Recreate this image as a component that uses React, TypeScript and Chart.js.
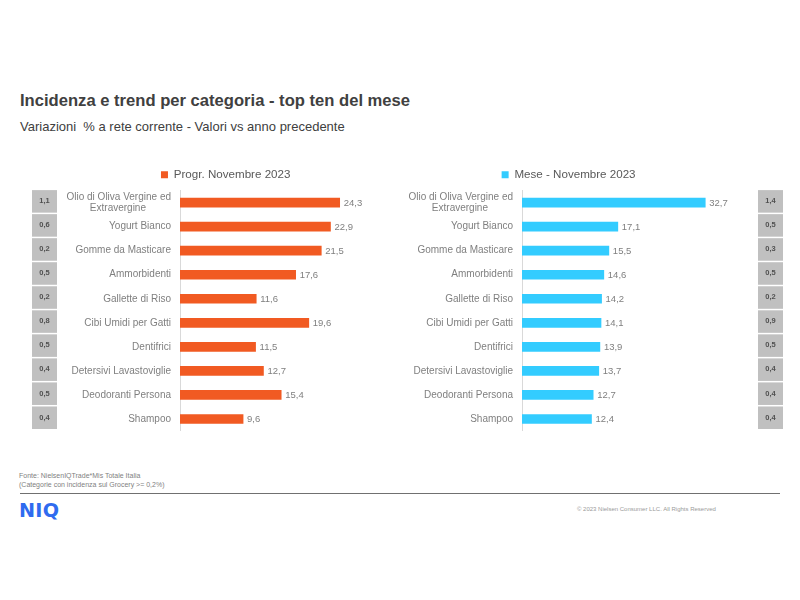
import React, { useEffect, useRef } from 'react';
import { Chart, registerables } from 'chart.js';

Chart.register(...registerables);

// ---------- data ----------
const categories: (string | string[])[] = [
  ['Olio di Oliva Vergine ed', 'Extravergine'],
  'Yogurt Bianco',
  'Gomme da Masticare',
  'Ammorbidenti',
  'Gallette di Riso',
  'Cibi Umidi per Gatti',
  'Dentifrici',
  'Detersivi Lavastoviglie',
  'Deodoranti Persona',
  'Shampoo',
];
const progrLabel = 'Progr. Novembre 2023';
const progrValues = [24.3, 22.9, 21.5, 17.6, 11.6, 19.6, 11.5, 12.7, 15.4, 9.6];
const progrIncidence = [1.1, 0.6, 0.2, 0.5, 0.2, 0.8, 0.5, 0.4, 0.5, 0.4];

const meseLabel = 'Mese - Novembre 2023';
const meseValues = [32.7, 17.1, 15.5, 14.6, 14.2, 14.1, 13.9, 13.7, 12.7, 12.4];
const meseIncidence = [1.4, 0.5, 0.3, 0.5, 0.2, 0.9, 0.5, 0.4, 0.4, 0.4];

const titleText = 'Incidenza e trend per categoria - top ten del mese';
const subtitleText = 'Variazioni  % a rete corrente - Valori vs anno precedente';
const sourceLine1 = 'Fonte: NielsenIQTrade*Mis Totale Italia';
const sourceLine2 = '(Categorie con incidenza sul Grocery >= 0,2%)';
const copyrightText = '\u00A9 2023 Nielsen Consumer LLC. All Rights Reserved';

// ---------- styling ----------
const FONT = '"Liberation Sans", Arial, Helvetica, sans-serif';
const TICK_FONT_SIZE = 10;
const ORANGE = '#F15A22';
const CYAN = '#33CCFF';
const fmt = (v: number) => v.toFixed(1).replace('.', ',');

// center the lines of a multi-line category label (right-aligned by the axis)
let measureCtx: CanvasRenderingContext2D | null = null;
function centerLines(label: any): any {
  if (!Array.isArray(label)) return label;
  if (!measureCtx) measureCtx = document.createElement('canvas').getContext('2d');
  const c = measureCtx as CanvasRenderingContext2D;
  c.font = `${TICK_FONT_SIZE}px ${FONT}`;
  const widths = label.map((l: string) => c.measureText(l).width);
  const maxW = Math.max(...widths);
  const sp = c.measureText('\u00A0').width || 2.78;
  return label.map((l: string, i: number) => {
    const n = Math.round((maxW - widths[i]) / 2 / sp);
    return l + '\u00A0'.repeat(n);
  });
}

const annotatePlugin = {
  id: 'annotate',
  afterDatasetsDraw(chart: any, _args: any, opts: any) {
    const ctx = chart.ctx;
    const meta = chart.getDatasetMeta(0);
    const data = chart.data.datasets[0].data as number[];
    const yScale = chart.scales.y;
    const n = data.length;
    const band = (yScale.bottom - yScale.top) / n;
    ctx.save();
    // value labels
    ctx.font = `9.5px ${FONT}`;
    ctx.fillStyle = '#7F7F7F';
    ctx.textBaseline = 'middle';
    ctx.textAlign = 'left';
    meta.data.forEach((el: any, i: number) => {
      ctx.fillText(fmt(data[i]), el.x + 4, el.y + 0.5);
    });
    // incidence cells
    const inc: number[] = opts.incidence || [];
    inc.forEach((v, i) => {
      const cy = yScale.getPixelForValue(i);
      ctx.fillStyle = '#C0C0C0';
      ctx.fillRect(opts.cellX, cy - band / 2 - 0.5, opts.cellW, band - 1.5);
      ctx.fillStyle = '#505050';
      ctx.font = `bold 7.5px "Liberation Sans Narrow", ${FONT}`;
      ctx.textAlign = 'center';
      ctx.fillText(fmt(v), opts.cellX + opts.cellW / 2, cy - 1.5);
    });
    ctx.restore();
  },
};

function makeConfig(
  label: string,
  values: number[],
  color: string,
  incidence: number[],
  axisWidth: number,
  padRight: number,
  xMax: number,
  cellX: number
): any {
  return {
    type: 'bar',
    data: {
      labels: categories,
      datasets: [
        {
          label,
          data: values,
          backgroundColor: color,
          borderWidth: 0,
          barThickness: 9,
        },
      ],
    },
    options: {
      indexAxis: 'y',
      responsive: false,
      animation: false,
      devicePixelRatio: 1,
      layout: { padding: { left: 0, right: padRight, top: 0, bottom: 0 } },
      scales: {
        x: {
          display: false,
          min: 0,
          max: xMax,
          grid: { display: false },
        },
        y: {
          grid: { display: false, drawTicks: false },
          border: { display: true, color: '#D9D9D9', width: 1 },
          ticks: {
            autoSkip: false,
            color: '#7F7F7F',
            font: { family: FONT, size: TICK_FONT_SIZE, lineHeight: 1.17 },
            padding: 9,
            callback: function (this: any, value: any) {
              return centerLines(this.getLabelForValue(value) as any);
            },
          },
          afterFit: (scale: any) => {
            scale.width = axisWidth;
            scale.paddingTop = 0;
            scale.paddingBottom = 0;
          },
        },
      },
      plugins: {
        legend: {
          display: true,
          position: 'top',
          align: 'center',
          labels: {
            boxWidth: 7,
            boxHeight: 7,
            padding: 8,
            color: '#595959',
            font: { family: FONT, size: 11.6 },
          },
        },
        tooltip: { enabled: false },
        annotate: { incidence, cellX, cellW: 25 },
      },
    },
    plugins: [annotatePlugin],
  };
}

function BarPanel(props: { config: any; left: number; top: number; width: number; height: number }) {
  const ref = useRef<HTMLCanvasElement | null>(null);
  useEffect(() => {
    if (!ref.current) return;
    const chart = new Chart(ref.current, props.config);
    return () => chart.destroy();
  }, []);
  return (
    <canvas
      ref={ref}
      width={props.width}
      height={props.height}
      style={{
        position: 'absolute',
        left: props.left,
        top: props.top,
        width: props.width,
        height: props.height,
      }}
    />
  );
}

export default function App() {
  const leftConfig = makeConfig(progrLabel, progrValues, ORANGE, progrIncidence, 180, 8.6, 41.3, 32);
  const rightConfig = makeConfig(meseLabel, meseValues, CYAN, meseIncidence, 122, 62.8, 38.4, 358);
  return (
    <div
      style={{
        position: 'absolute',
        left: 0,
        top: 0,
        width: 800,
        height: 600,
        background: '#FFFFFF',
        fontFamily: FONT,
        overflow: 'hidden',
      }}
    >
      <div
        style={{
          position: 'absolute',
          left: 20,
          top: 92.5,
          fontSize: 16.6,
          lineHeight: 1,
          fontWeight: 'bold',
          color: '#404040',
          whiteSpace: 'pre',
        }}
      >
        {titleText}
      </div>
      <div
        style={{
          position: 'absolute',
          left: 20,
          top: 119.5,
          fontSize: 13,
          lineHeight: 1,
          color: '#404040',
          whiteSpace: 'pre',
        }}
      >
        {subtitleText}
      </div>

      <BarPanel config={leftConfig} left={0} top={161} width={460} height={270} />
      <BarPanel config={rightConfig} left={400} top={161} width={400} height={270} />

      <div
        style={{
          position: 'absolute',
          left: 19,
          top: 472.3,
          fontSize: 7,
          lineHeight: 1.23,
          color: '#7F7F7F',
          whiteSpace: 'pre',
        }}
      >
        {sourceLine1}
        <br />
        {sourceLine2}
      </div>
      <div
        style={{
          position: 'absolute',
          left: 20,
          top: 493,
          width: 760,
          height: 1,
          background: '#707070',
        }}
      />
      <div
        style={{
          position: 'absolute',
          left: 19,
          top: 501,
          fontSize: 19.2,
          lineHeight: 1,
          fontWeight: 'bold',
          fontFamily: '"DejaVu Sans", sans-serif',
          color: '#2F6BEF',
          letterSpacing: 0.3,
        }}
      >
        NIQ
      </div>
      <div
        style={{
          position: 'absolute',
          left: 577,
          top: 506.3,
          fontSize: 6,
          lineHeight: 1,
          color: '#9A9A9A',
          whiteSpace: 'pre',
        }}
      >
        {copyrightText}
      </div>
    </div>
  );
}
